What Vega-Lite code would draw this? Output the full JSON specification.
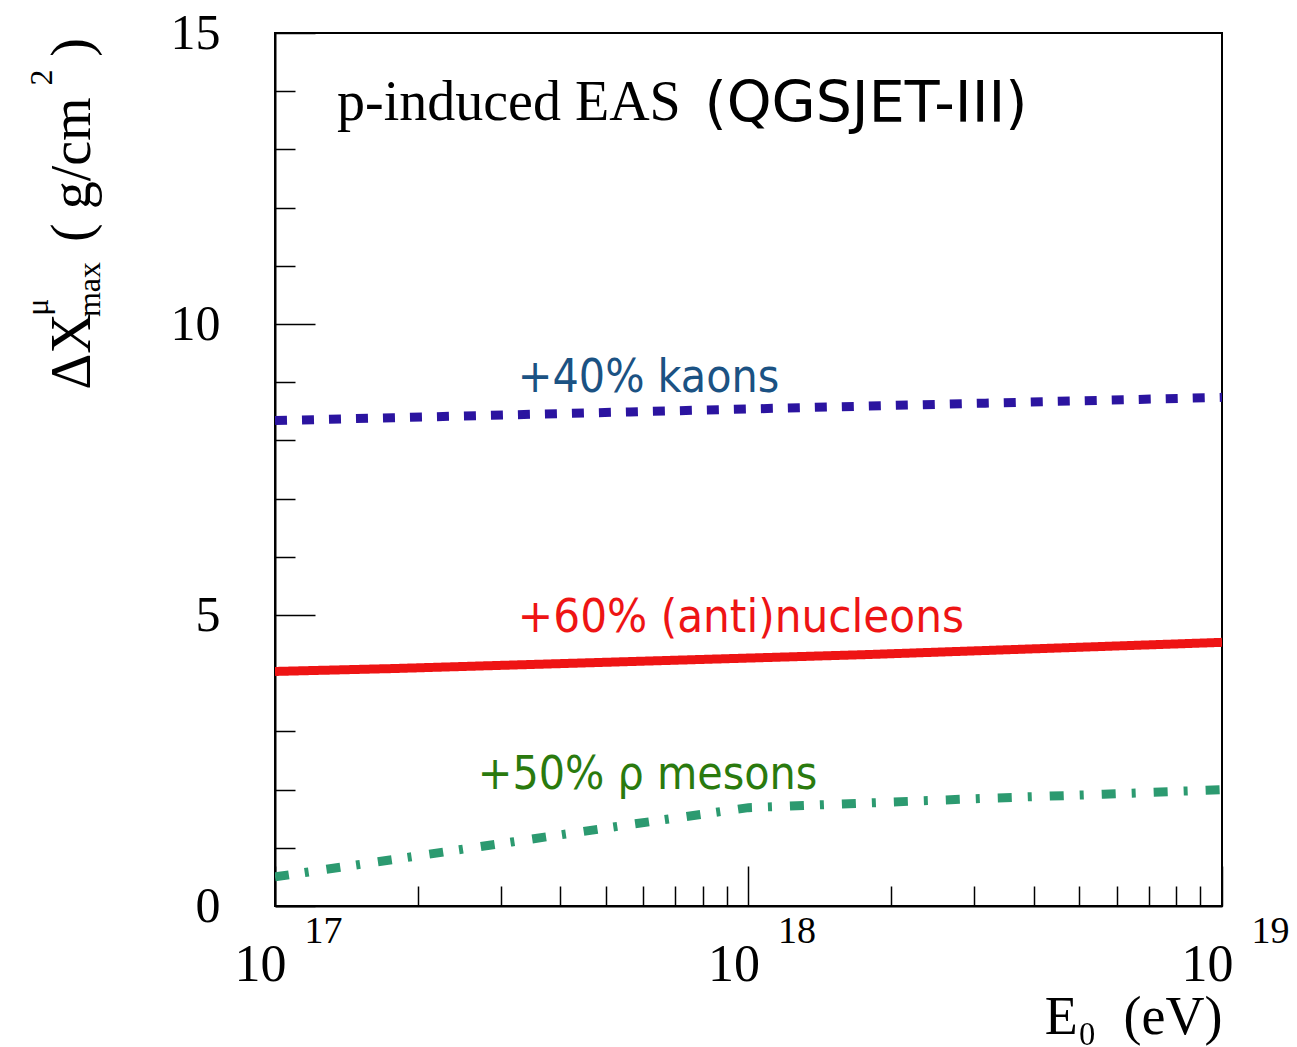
{
  "$schema": "https://vega.github.io/schema/vega-lite/v6.json",
  "autosize": {"type": "none"},
  "padding": {"left": 275, "top": 33, "right": 75, "bottom": 141},
  "width": 947,
  "height": 873,
  "background": "white",
  "config": {
    "view": {"stroke": "black", "strokeWidth": 2},
    "axis": {"grid": false, "domainColor": "black", "domainWidth": 2, "tickColor": "black", "tickWidth": 1.5, "labelColor": "black", "labelFont": "Liberation Serif", "labelFlush": false, "labelOverlap": false, "labelBound": false}
  },
  "resolve": {"axis": {"x": "independent", "y": "independent"}},
  "layer": [
    {
      "data": {"values": [
        {"series": "kaons", "E": 1e17, "v": 8.34}, {"series": "kaons", "E": 1.778e17, "v": 8.39}, {"series": "kaons", "E": 3.162e17, "v": 8.44},
        {"series": "kaons", "E": 5.623e17, "v": 8.49}, {"series": "kaons", "E": 1e18, "v": 8.54}, {"series": "kaons", "E": 1.778e18, "v": 8.59},
        {"series": "kaons", "E": 3.162e18, "v": 8.64}, {"series": "kaons", "E": 5.623e18, "v": 8.69}, {"series": "kaons", "E": 1e19, "v": 8.74},
        {"series": "nucleons", "E": 1e17, "v": 4.03}, {"series": "nucleons", "E": 1.778e17, "v": 4.08}, {"series": "nucleons", "E": 3.162e17, "v": 4.14},
        {"series": "nucleons", "E": 5.623e17, "v": 4.2}, {"series": "nucleons", "E": 1e18, "v": 4.26}, {"series": "nucleons", "E": 1.778e18, "v": 4.32},
        {"series": "nucleons", "E": 3.162e18, "v": 4.39}, {"series": "nucleons", "E": 5.623e18, "v": 4.46}, {"series": "nucleons", "E": 1e19, "v": 4.53},
        {"series": "rho", "E": 1e17, "v": 0.5}, {"series": "rho", "E": 1.778e17, "v": 0.8}, {"series": "rho", "E": 3.162e17, "v": 1.1},
        {"series": "rho", "E": 5.623e17, "v": 1.4}, {"series": "rho", "E": 1e18, "v": 1.69}, {"series": "rho", "E": 1.778e18, "v": 1.77},
        {"series": "rho", "E": 3.162e18, "v": 1.85}, {"series": "rho", "E": 5.623e18, "v": 1.92}, {"series": "rho", "E": 1e19, "v": 2.0}
      ]},
      "mark": {"type": "line", "strokeWidth": 9, "strokeCap": "butt", "clip": true},
      "encoding": {
        "x": {"field": "E", "type": "quantitative",
          "scale": {"type": "log", "domain": [1e17, 1e19], "nice": false},
          "axis": {"orient": "bottom", "values": [1e17, 1e18, 1e19], "labelExpr": "'10'", "tickSize": -40,
            "labelFontSize": 52, "labelAlign": "right", "labelOffset": 11, "labelBaseline": "top", "labelPadding": 73,
            "title": "E₀\u00a0\u00a0(eV)", "titleFont": "Liberation Serif", "titleFontSize": 54, "titleFontWeight": "normal",
            "titleColor": "black", "titleAnchor": "end", "titlePadding": 0}},
        "y": {"field": "v", "type": "quantitative",
          "scale": {"domain": [0, 15], "nice": false, "zero": false},
          "axis": {"orient": "left", "values": [0, 5, 10, 15], "tickSize": -40, "labelFontSize": 50,
            "labelPadding": 95, "labelBaseline": "middle", "title": null}},
        "color": {"field": "series", "type": "nominal", "legend": null,
          "scale": {"domain": ["kaons", "nucleons", "rho"], "range": ["#2b14a0", "#ee1414", "#2c9a70"]}},
        "strokeDash": {"field": "series", "type": "nominal", "legend": null,
          "scale": {"domain": ["kaons", "nucleons", "rho"], "range": [[12, 15], [1, 0], [14, 16, 4, 18]]}}
      }
    },
    {
      "data": {"values": [{"t": "p-induced EAS", "E": 1.352e17, "v": 13.5}]},
      "mark": {"type": "text", "font": "Liberation Serif", "fontSize": 56, "align": "left", "baseline": "alphabetic", "color": "black"},
      "encoding": {
        "x": {"field": "E", "type": "quantitative",
          "axis": {"orient": "bottom", "values": [2e17, 3e17, 4e17, 5e17, 6e17, 7e17, 8e17, 9e17, 2e18, 3e18, 4e18, 5e18, 6e18, 7e18, 8e18, 9e18],
            "tickSize": -20, "labels": false, "domain": false, "title": null}},
        "y": {"field": "v", "type": "quantitative",
          "axis": {"orient": "left", "values": [1, 2, 3, 4, 6, 7, 8, 9, 11, 12, 13, 14],
            "tickSize": -20, "labels": false, "domain": false, "title": null}},
        "text": {"field": "t"}
      }
    },
    {
      "data": {"values": [{"t": "(QGSJET-III)", "E": 8.07e17, "v": 13.47}]},
      "mark": {"type": "text", "font": "DejaVu Sans", "fontSize": 57, "align": "left", "baseline": "alphabetic", "color": "black"},
      "encoding": {
        "x": {"field": "E", "type": "quantitative",
          "axis": {"orient": "bottom", "values": [1e17, 1e18, 1e19], "labelExpr": "'' + round(log(datum.value) / LN10)",
            "ticks": false, "domain": false, "labelFontSize": 38, "labelAlign": "left", "labelOffset": 29,
            "labelBaseline": "top", "labelPadding": 6, "title": null}},
        "y": {"field": "v", "type": "quantitative", "axis": null},
        "text": {"field": "t"}
      }
    },
    {
      "data": {"values": [{"t": "+40% kaons", "E": 3.257e17, "v": 8.83}]},
      "mark": {"type": "text", "font": "DejaVu Sans Condensed, DejaVu Sans", "fontSize": 46, "align": "left", "baseline": "alphabetic", "color": "#1b5283"},
      "encoding": {
        "x": {"field": "E", "type": "quantitative", "axis": null},
        "y": {"field": "v", "type": "quantitative", "axis": null},
        "text": {"field": "t"}
      }
    },
    {
      "data": {"values": [{"t": "+60% (anti)nucleons", "E": 3.257e17, "v": 4.71}]},
      "mark": {"type": "text", "font": "DejaVu Sans Condensed, DejaVu Sans", "fontSize": 47, "align": "left", "baseline": "alphabetic", "color": "#ee1414"},
      "encoding": {
        "x": {"field": "E", "type": "quantitative", "axis": null},
        "y": {"field": "v", "type": "quantitative", "axis": null},
        "text": {"field": "t"}
      }
    },
    {
      "data": {"values": [{"t": "+50% ρ mesons", "E": 2.68e17, "v": 2.01}]},
      "mark": {"type": "text", "font": "DejaVu Sans Condensed, DejaVu Sans", "fontSize": 46, "align": "left", "baseline": "alphabetic", "color": "#2a7a0e"},
      "encoding": {
        "x": {"field": "E", "type": "quantitative", "axis": null},
        "y": {"field": "v", "type": "quantitative", "axis": null},
        "text": {"field": "t"}
      }
    },
    {
      "data": {"values": [
        {"t": "ΔX", "E": 4.07e16, "v": 8.87},
        {"t": "( g/cm", "E": 4.07e16, "v": 11.41},
        {"t": ")", "E": 4.07e16, "v": 14.59}
      ]},
      "mark": {"type": "text", "font": "Liberation Serif", "fontSize": 56, "angle": 270, "align": "left", "baseline": "alphabetic", "color": "black"},
      "encoding": {
        "x": {"field": "E", "type": "quantitative", "axis": null},
        "y": {"field": "v", "type": "quantitative", "axis": null},
        "text": {"field": "t"}
      }
    },
    {
      "data": {"values": [
        {"t": "μ", "E": 3.32e16, "v": 10.14},
        {"t": "max", "E": 4.28e16, "v": 10.12},
        {"t": "2", "E": 3.38e16, "v": 14.1}
      ]},
      "mark": {"type": "text", "font": "Liberation Serif", "fontSize": 32, "angle": 270, "align": "left", "baseline": "alphabetic", "color": "black"},
      "encoding": {
        "x": {"field": "E", "type": "quantitative", "axis": null},
        "y": {"field": "v", "type": "quantitative", "axis": null},
        "text": {"field": "t"}
      }
    }
  ]
}
